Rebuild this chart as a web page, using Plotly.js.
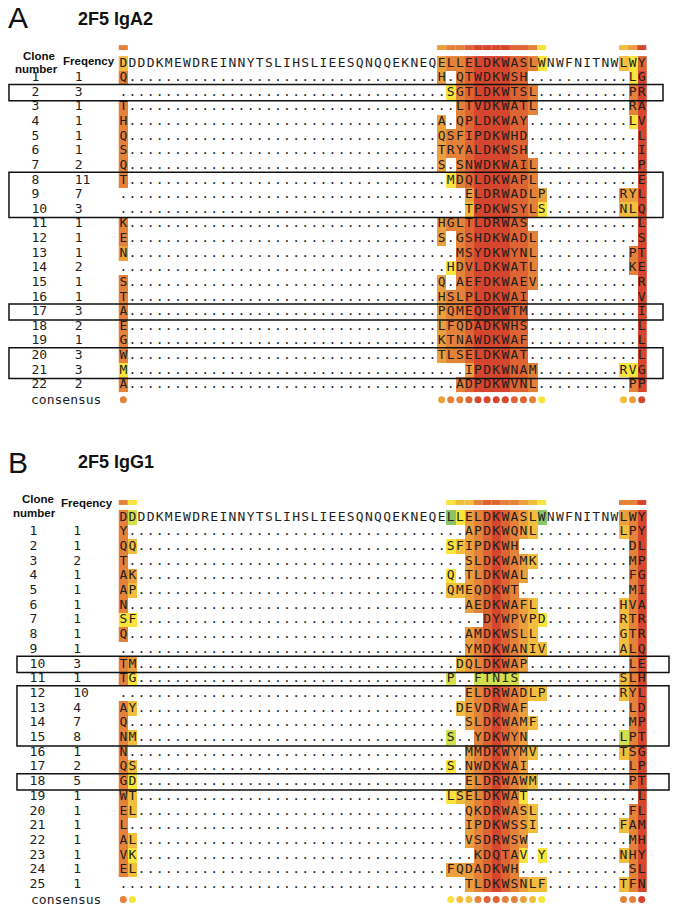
<!DOCTYPE html>
<html><head><meta charset="utf-8">
<script src="https://cdn.plot.ly/plotly-3.0.1.min.js"></script>
<style>html,body{margin:0;padding:0;background:#fff}</style>
</head><body><div id="chart" style="width:673px;height:906px"></div>
<script>
// ---------- DATA ----------
const headerSeq = "DDDDKMEWDREINNYTSLIHSLIEESQNQQEKNEQELLELDKWASLWNWFNITNWLWY";

// Panel A : 2F5 IgA2
const cloneA = [1,2,3,4,5,6,7,8,9,10,11,12,13,14,15,16,17,18,19,20,21,22];
const freqA  = [1,3,1,1,1,1,2,11,7,3,1,1,1,2,1,1,3,2,1,3,3,2];
const leadA  = ["Q",".","T","H","Q","S","Q","T",".",".","K","E","N",".","S","T","A","E","G","W","M","A"];
const midStartA = [36,37,38,36,36,36,36,37,39,39,36,36,38,37,36,36,36,36,36,36,39,38];
const midA = ["H.QTWDKWSH","SGTLDKWTSL","LTVDKWATL","A.QPLDKWAY","QSFIPDKWHD","TRYALDKWSH",
  "S.SNWDKWAIL","MDQLDKWAPL","ELDRWADLP","TPDKWSYLS","HGLTLDRWAS","S.GSHDKWADL","MSYDKWYNL",
  "HDVLDKWATL","Q.AEFDKWAEV","HSLPLDKWAI","PQMEQDKWTM","LFQDADKWHS","KTNAWDKWAF","TLSELDKWAT",
  "IPDKWNAM","ADPDKWVNL"];
const endStartA = [57,57,57,57,58,58,58,58,56,56,58,58,57,57,58,58,58,58,58,58,56,57];
const endA = ["LG","PR","RA","LV","L","I","P","E","RYL","NLQ","L","S","PT","KE","R","V","I","L","L","L","RVG","PP"];
const litColsA   = [1,36,37,38,39,40,41,42,43,44,45,46,47,56,57,58];
const cellLevA   = [4,3,4,4,5,6,6,6,6,5,5,4,3,3,4,6];
const consLevA   = [4,3,4,4,5,6,6,6,6,5,5,4,1,2,3,6];
const overA = [[0,1,2],[0,47,1],[0,56,2],[0,57,1],[0,58,5],[1,57,1],[2,37,1],[4,57,1],[8,37,1],
  [9,39,3],[9,47,3],[9,56,3],[9,57,3],[10,39,2],[10,47,1],[10,56,2],[10,57,2],[13,1,3],[14,37,1],
  [21,1,1],[21,39,3],[21,56,1],[21,57,1]];
const boxesA = [[2,2],[8,10],[17,17],[20,21]];

// Panel B : 2F5 IgG1
const cloneB = [1,2,3,4,5,6,7,8,9,10,11,12,13,14,15,16,17,18,19,20,21,22,23,24,25];
const freqB  = [1,1,2,1,1,1,1,1,1,3,1,10,4,7,8,1,2,5,1,1,1,1,1,1,1];
const leadB  = ["Y.","QQ","T.","AK","AP","N.","SF","Q.","..","TM","TG","..","AY","Q.","NM","N.","QS","GD","WT","EL","L.","AL","VK","EL",".."];
const midStartB = [39,37,39,37,37,39,41,39,39,38,37,39,38,39,37,39,37,39,37,39,39,39,40,37,39];
const midB = ["APDKWQNL","SFIPDKWH","SLDKWAMK","Q.TLDKWAL","QMEQDKWT","AEDKWAFL","DYWPVPD","AMDKWSLL",
  "YMDKWANIV","DQLDKWAP","P..FTNIS","ELDRWADLP","DEVDRWAF","SLDKWAMF","S..YDKWYN","MMDKWYMV",
  "S.NWDKWAI","ELDRWAWM","LSELDKWAT","QKDRWASL","IPDKWSSI","VSDRWSW","KDQTAV.Y","FQDADKWH","TLDKWSNLF"];
const endStartB = [56,57,57,57,57,56,56,56,56,57,56,56,57,57,56,56,57,57,58,57,56,57,56,57,56];
const endB = ["LPY","DL","MP","FG","MI","HVA","RTR","GTR","ALQ","LE","SLH","RYL","LD","MP","LPT","TSG",
  "LP","PT","L","FL","FAM","MH","NHY","SL","TFN"];
const litColsB = [1,2,37,38,39,40,41,42,43,44,45,46,47,56,57,58];
const cellLevB = [4,2,1,2,3,4,5,6,5,4,3,2,2,2,4,6];
const consLevB = [4,1,1,2,2,4,5,5,4,4,3,2,1,4,4,6];
const overB = [[0,2,8],[0,37,7],[0,38,1],[0,47,7],[0,56,3],[7,1,1],[7,2,1],[11,2,1],[18,2,1],[23,2,1],
  [4,2,3],[10,2,3],[11,37,8],[11,40,8],[11,41,8],[11,42,8],[11,43,8],[11,44,8],[15,37,8],[15,56,8],
  [5,37,2],[24,37,3],[24,38,3],[23,45,1],[23,47,1],[19,45,1],[7,47,1]];
const boxesB = [[10,10],[12,15],[18,18]];

// ---------- STYLE ----------
const palette = ['#f8e43c','#f3bd3d','#ec9f3d','#e5823a','#de6434','#d6452d','#8cc26a','#d3df4d'];
const nCols = headerSeq.length;
const mono = 'DejaVu Sans Mono, monospace';
const sans = 'Liberation Sans, Arial, sans-serif';
const colScale = [];
palette.forEach((c,i)=>{ colScale.push([i/palette.length,c]); colScale.push([(i+1)/palette.length,c]); });

function buildRows(lead, ms, mid, es, end){
  const rows = [headerSeq];
  for (let i=0;i<lead.length;i++){
    const arr = new Array(nCols).fill('.');
    for (let k=0;k<lead[i].length;k++) arr[k] = lead[i][k];
    for (let k=0;k<mid[i].length;k++) arr[ms[i]-1+k] = mid[i][k];
    for (let k=0;k<end[i].length;k++) arr[es[i]-1+k] = end[i][k];
    rows.push(arr.join(''));
  }
  return rows;
}

function panelTraces(rows, litCols, cellLev, consLev, over, clones, freqs, yax, barBase, consRow, clX, frX){
  const xs = []; for (let c=1;c<=nCols;c++) xs.push(c);
  const ys = rows.map((_,i)=>i);
  const z = rows.map((s,r)=>xs.map(c=>{
    const ch = s[c-1]; const li = litCols.indexOf(c);
    if (ch==='.' || li<0) return null;
    const o = over.find(v=>v[0]===r && v[1]===c);
    return o ? o[2] : cellLev[li];
  }));
  const tx=[],ty=[],tt=[];
  rows.forEach((s,r)=>{ for(let c=1;c<=nCols;c++){ tx.push(c); ty.push(r); tt.push(s[c-1]); } });
  return [
    {type:'heatmap', x:xs, y:ys, z:z, zmin:0.5, zmax:palette.length+0.5, colorscale:colScale,
     showscale:false, hoverinfo:'skip', yaxis:yax},
    {type:'bar', x:litCols, y:litCols.map(()=>0.34), base:barBase, width:1,
     marker:{color:consLev.map(l=>palette[l-1]), line:{width:0}}, hoverinfo:'skip', yaxis:yax},
    {type:'scatter', mode:'text', x:tx, y:ty, text:tt, textposition:'middle center',
     textfont:{family:mono,size:13,color:'#1e1e1e'}, hoverinfo:'skip', yaxis:yax, cliponaxis:false},
    {type:'scatter', mode:'text', x:clones.map(()=>clX), y:clones.map((_,i)=>i+1), text:clones.map(String),
     textposition:'middle right', textfont:{family:mono,size:13,color:'#1e1e1e'}, hoverinfo:'skip', yaxis:yax, cliponaxis:false},
    {type:'scatter', mode:'text', x:freqs.map(()=>frX), y:freqs.map((_,i)=>i+1), text:freqs.map(String),
     textposition:'middle right', textfont:{family:mono,size:13,color:'#1e1e1e'}, hoverinfo:'skip', yaxis:yax, cliponaxis:false},
    {type:'scatter', mode:'markers', x:litCols, y:litCols.map(()=>consRow),
     marker:{size:7, color:consLev.map(l=>palette[l-1]), line:{width:0}}, hoverinfo:'skip', yaxis:yax, cliponaxis:false}
  ];
}

const rowsA = buildRows(leadA, midStartA, midA, endStartA, endA);
const rowsB = buildRows(leadB, midStartB, midB, endStartB, endB);

const traces = [
  ...panelTraces(rowsA, litColsA, cellLevA, consLevA, overA, cloneA, freqA, 'y', -1.25, cloneA.length+1, -9.1, -4.35),
  ...panelTraces(rowsB, litColsB, cellLevB, consLevB, overB, cloneB, freqB, 'y2', -1.18, cloneB.length+1, -9.3, -4.5)
];

const shapes = [];
boxesA.forEach(b=>shapes.push({type:'rect', xref:'x', yref:'y', x0:-11.57, x1:60.34, y0:b[0]-0.55, y1:b[1]+0.55,
  line:{color:'#111', width:1.5}, fillcolor:'rgba(0,0,0,0)'}));
boxesB.forEach(b=>shapes.push({type:'rect', xref:'x', yref:'y2', x0:-10.69, x1:61.0, y0:b[0]-0.55, y1:b[1]+0.55,
  line:{color:'#111', width:1.5}, fillcolor:'rgba(0,0,0,0)'}));

function ann(text,x,y,yref,font,xanchor){ return {text:text, x:x, y:y, xref:'x', yref:yref, showarrow:false,
  font:font, xanchor:xanchor||'center', yanchor:'middle'}; }
const hdrFont = {family:sans, size:11.5, color:'#111', weight:'bold'};
const annotations = [
  {text:'A', xref:'paper', yref:'paper', x:18/673, y:1-18/906, showarrow:false, xanchor:'center', yanchor:'middle',
   font:{family:sans, size:30, color:'#111'}},
  {text:'<b>2F5 IgA2</b>', xref:'paper', yref:'paper', x:76/673, y:1-19/906, showarrow:false, xanchor:'left', yanchor:'middle',
   font:{family:sans, size:18, color:'#111'}},
  {text:'B', xref:'paper', yref:'paper', x:18/673, y:1-462/906, showarrow:false, xanchor:'center', yanchor:'middle',
   font:{family:sans, size:30, color:'#111'}},
  {text:'<b>2F5 IgG1</b>', xref:'paper', yref:'paper', x:76/673, y:1-462/906, showarrow:false, xanchor:'left', yanchor:'middle',
   font:{family:sans, size:18, color:'#111'}},
  ann('<b>Clone</b>', -8.27, -0.505, 'y', hdrFont),
  ann('<b>number</b>', -8.49, 0.384, 'y', hdrFont),
  ann('<b>Freqency</b>', -2.77, -0.163, 'y', hdrFont),
  ann('<b>Clone</b>', -8.38, -1.245, 'y2', hdrFont),
  ann('<b>number</b>', -8.71, -0.29, 'y2', hdrFont),
  ann('<b>Freqency</b>', -2.94, -0.97, 'y2', hdrFont),
  ann('consensus', -5.3, cloneA.length+1, 'y', {family:mono, size:13, color:'#1e1e1e'}),
  ann('consensus', -5.3, cloneB.length+1, 'y2', {family:mono, size:13, color:'#1e1e1e'})
];

const layout = {
  width:673, height:906, margin:{l:0,r:0,t:0,b:0}, paper_bgcolor:'#fff', plot_bgcolor:'#fff',
  showlegend:false, barmode:'overlay',
  xaxis:{range:[-12.557, 61.44], visible:false, fixedrange:true},
  yaxis:{range:[57.635, -4.335], visible:false, fixedrange:true},
  yaxis2:{range:[26.44, -35.19], visible:false, fixedrange:true, overlaying:'y'},
  shapes:shapes, annotations:annotations
};
Plotly.newPlot('chart', traces, layout, {staticPlot:true, displayModeBar:false});
</script></body></html>
